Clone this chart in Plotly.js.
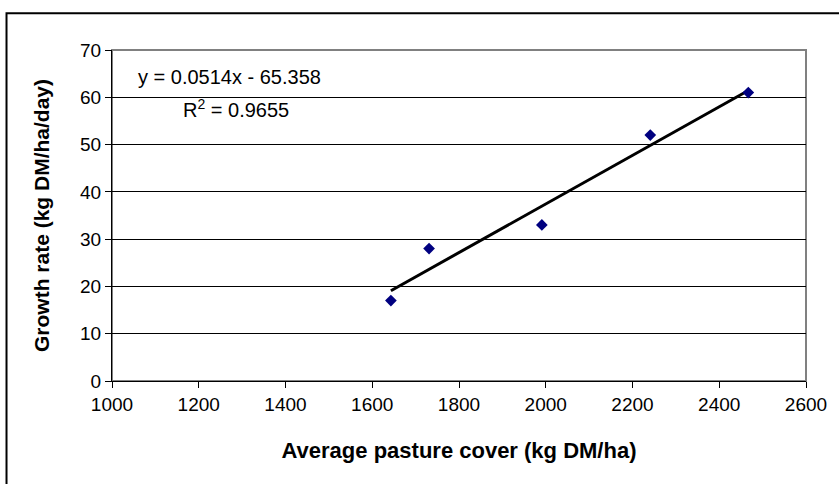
<!DOCTYPE html>
<html>
<head>
<meta charset="utf-8">
<script src="https://cdn.plot.ly/plotly-3.0.1.min.js"></script>
<style>html,body{margin:0;padding:0;background:#fff;}#chart{width:839px;height:484px;}</style>
</head>
<body>
<div id="chart"></div>
<script>
// Data
const pastureCover = [1643, 1731, 1991, 2241, 2467];
const growthRate = [17, 28, 33, 52, 61];
// Linear trendline as printed on the chart
const trendSlope = 0.0514;
const trendIntercept = -65.358;
const xTicks = [1000, 1200, 1400, 1600, 1800, 2000, 2200, 2400, 2600];
const yTicks = [0, 10, 20, 30, 40, 50, 60, 70];

const xMin = Math.min(...pastureCover);
const xMax = Math.max(...pastureCover);
const trendX = [xMin, xMax];
const trendY = trendX.map(x => trendSlope * x + trendIntercept);

const FONT = '"Liberation Sans", Arial, sans-serif';

const traces = [
  {
    x: trendX, y: trendY, type: 'scatter', mode: 'lines',
    line: {color: '#000000', width: 3}, hoverinfo: 'skip', showlegend: false
  },
  {
    x: pastureCover, y: growthRate, type: 'scatter', mode: 'markers',
    marker: {symbol: 'diamond', size: 9, color: '#000080', line: {width: 0}},
    showlegend: false
  }
];

const layout = {
  width: 839, height: 484,
  margin: {l: 112, r: 33, t: 50, b: 103},
  paper_bgcolor: '#ffffff', plot_bgcolor: '#ffffff',
  font: {family: FONT, size: 18, color: '#000000'},
  showlegend: false,
  xaxis: {
    range: [1000, 2600], tickvals: xTicks, ticktext: xTicks.map(String),
    showgrid: false, zeroline: false,
    showline: true, linecolor: '#000000', linewidth: 1,
    ticks: 'outside', ticklen: 6, tickcolor: '#000000', tickwidth: 1,
    tickfont: {family: FONT, size: 19},
    title: {text: '<b>Average pasture cover (kg DM/ha)</b>', font: {family: FONT, size: 22}, standoff: 28},
    fixedrange: true
  },
  yaxis: {
    range: [0, 70], tickvals: yTicks, ticktext: yTicks.map(String),
    showgrid: true, gridcolor: '#000000', gridwidth: 1, zeroline: false,
    showline: true, linecolor: '#000000', linewidth: 1,
    ticks: 'outside', ticklen: 6, tickcolor: '#000000', tickwidth: 1,
    tickfont: {family: FONT, size: 19},
    title: {text: '<b>Growth rate (kg DM/ha/day)</b>', font: {family: FONT, size: 21}, standoff: 24},
    fixedrange: true
  },
  shapes: [
    {type: 'rect', xref: 'paper', yref: 'paper', x0: 0, x1: 1, y0: 0, y1: 1,
     line: {color: '#808080', width: 2}, layer: 'below'},
    {type: 'rect', xref: 'paper', yref: 'paper', x0: -0.152, x1: 1.06, y0: -0.5, y1: 1.111,
     line: {color: '#000000', width: 2}, fillcolor: 'rgba(0,0,0,0)'}
  ],
  annotations: [
    {xref: 'paper', yref: 'paper', x: 0.035, y: 0.918, xanchor: 'left', yanchor: 'middle',
     text: 'y = 0.0514x - 65.358', showarrow: false, font: {family: FONT, size: 20}},
    {xref: 'paper', yref: 'paper', x: 0.1, y: 0.822, xanchor: 'left', yanchor: 'middle',
     text: 'R<sup>2</sup> = 0.9655', showarrow: false, font: {family: FONT, size: 20}}
  ]
};

Plotly.newPlot('chart', traces, layout, {displayModeBar: false, staticPlot: true});
</script>
</body>
</html>
